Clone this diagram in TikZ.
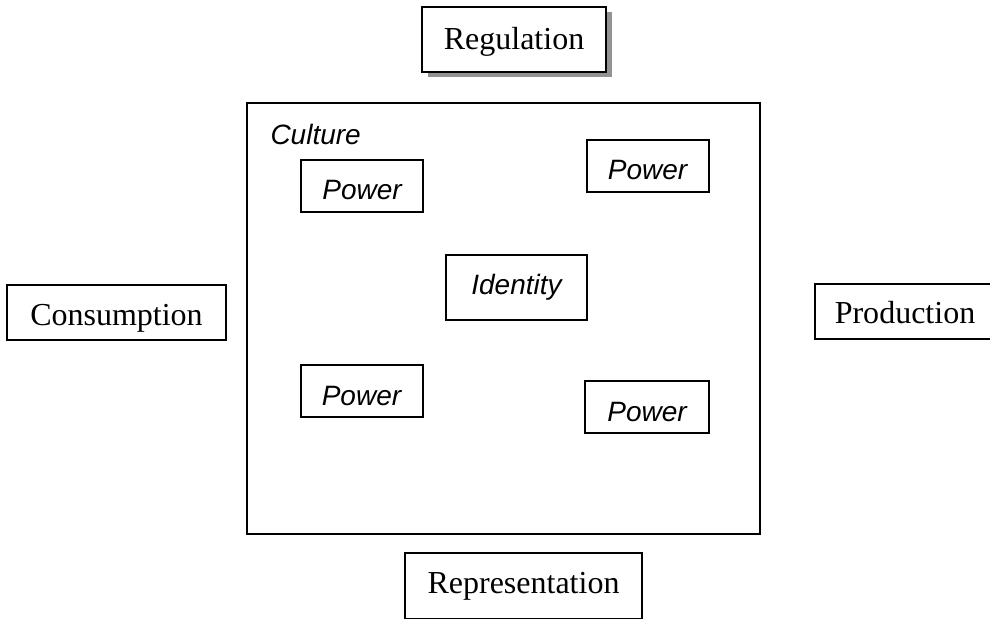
\documentclass[tikz,border=0pt]{standalone}
\usepackage{fontspec}
\setmainfont{Liberation Serif}
\newfontfamily\arialfont{Liberation Sans}
\usetikzlibrary{shadows}
\tikzset{
  outer/.style={draw, line width=0.8pt, fill=white, inner sep=0pt,
    font=\fontsize{12.8}{15}\selectfont},
  inner/.style={draw, line width=0.8pt, fill=white, inner sep=0pt,
    font=\arialfont\itshape\fontsize{11.2}{13}\selectfont},
  power/.style={inner, minimum width=48.8pt, minimum height=20.8pt,
    text height=11.2pt, text depth=0pt},
}
\begin{document}
\begin{tikzpicture}[x=0.4pt, y=-0.4pt]
      \useasboundingbox (0,0) rectangle (990,618);
      \clip (0,0) rectangle (990,618);
      \node[outer, minimum width=205.2pt, minimum height=172.4pt] (culture) at (503.5,318.5) {};
      \node[anchor=base west, inner sep=0pt, font=\arialfont\itshape\fontsize{11.2}{13}\selectfont] (culturelabel) at (270,145) {Culture};
      \node[outer, minimum width=73.6pt, minimum height=26pt, text height=8.4pt, text depth=0pt,
        drop shadow={shadow xshift=2.2pt, shadow yshift=-2.2pt, fill=gray!85, opacity=1}] (regulation) at (514,39.5) {Regulation};
      \node[outer, minimum width=87.6pt, minimum height=22pt, text height=10pt, text depth=0pt] (consumption) at (116.5,312.5) {Consumption};
      \node[outer, minimum width=72pt, minimum height=22pt, text height=9.2pt, text depth=0pt] (production) at (905,311.5) {Production};
      \node[outer, minimum width=94.8pt, minimum height=26.4pt] (representation) at (523.5,586) {Representation};
      \begin{scope}[every node/.append style={power}]
        \node (power1) at (362,186) {Power};
        \node (power2) at (647.5,166) {Power};
        \node (power3) at (361.5,391) {Power};
        \node[minimum width=49.6pt] (power4) at (647,407) {Power};
      \end{scope}
      \node[inner, minimum width=56.4pt, minimum height=26pt] (identity) at (516.5,287.5) {Identity};
    \end{tikzpicture}
\end{document}
